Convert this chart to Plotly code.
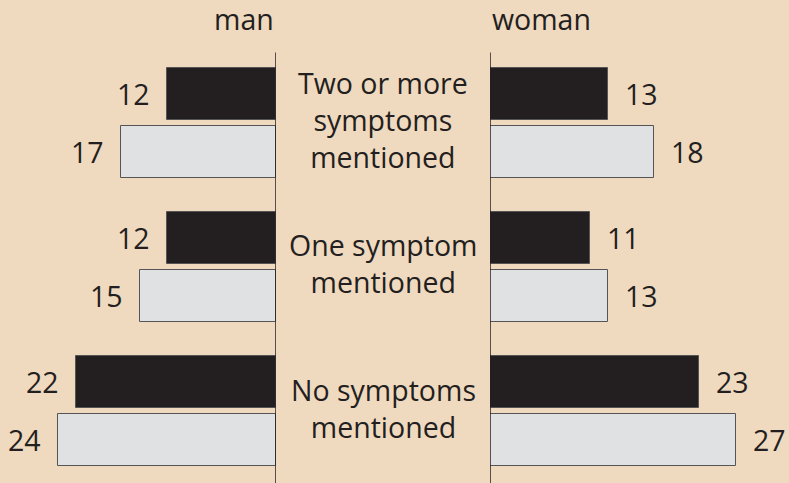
import plotly.graph_objects as go

# data
groups = ["Two or more<br>symptoms<br>mentioned", "One symptom<br>mentioned", "No symptoms<br>mentioned"]
man_dark = [12, 12, 22]
man_light = [17, 15, 24]
woman_dark = [13, 11, 23]
woman_light = [18, 13, 27]
headers = ["man", "woman"]

BG = "#efd9bf"
INK = "#231f20"
LIGHT = "#e0e1e3"
EDGE = "#555555"
FONT = "Open Sans"

OFF = 0.2
BAR_W = 0.36
pos = list(range(len(groups)))
dark_pos = [p - OFF for p in pos]
light_pos = [p + OFF for p in pos]

fig = go.Figure()


def add_bars(vals, ys, color, xaxis):
    fig.add_trace(go.Bar(
        x=vals, y=ys, orientation="h", width=BAR_W,
        marker=dict(color=color, line=dict(color=EDGE, width=1)),
        xaxis=xaxis, yaxis="y", showlegend=False, hoverinfo="x",
    ))


add_bars(man_dark, dark_pos, INK, "x")
add_bars(man_light, light_pos, LIGHT, "x")
add_bars(woman_dark, dark_pos, INK, "x2")
add_bars(woman_light, light_pos, LIGHT, "x2")

annotations = []
txt = dict(family=FONT, size=28.5, color=INK)

# value labels
for vals, ys in [(man_dark, dark_pos), (man_light, light_pos)]:
    for v, y in zip(vals, ys):
        annotations.append(dict(x=v, y=y, xref="x", yref="y", text=str(v),
                                xanchor="right", yanchor="middle", xshift=-15,
                                showarrow=False, font=txt))
for vals, ys in [(woman_dark, dark_pos), (woman_light, light_pos)]:
    for v, y in zip(vals, ys):
        annotations.append(dict(x=v, y=y, xref="x2", yref="y", text=str(v),
                                xanchor="left", yanchor="middle", xshift=15,
                                showarrow=False, font=txt))

# group labels in the middle
for g, p in zip(groups, pos):
    annotations.append(dict(x=383 / 789, y=p, xref="paper", yref="y", text=g,
                            xanchor="center", yanchor="middle", yshift=3,
                            showarrow=False, font=txt))

# headers
annotations.append(dict(x=0, y=0.96, xref="x", yref="paper", text=headers[0],
                        xanchor="right", yanchor="middle", showarrow=False, font=txt))
annotations.append(dict(x=0, y=0.96, xref="x2", yref="paper", text=headers[1],
                        xanchor="left", yanchor="middle", showarrow=False, font=txt))

# vertical baselines
shapes = [
    dict(type="line", xref="x", yref="y", x0=0, x1=0, y0=-0.49, y1=2.6,
         line=dict(color=INK, width=1.5)),
    dict(type="line", xref="x2", yref="y", x0=0, x1=0, y0=-0.49, y1=2.6,
         line=dict(color=INK, width=1.5)),
]

fig.update_layout(
    width=789, height=483,
    margin=dict(l=0, r=0, t=0, b=0),
    paper_bgcolor=BG, plot_bgcolor=BG,
    bargap=0, showlegend=False,
    xaxis=dict(domain=[0, 276 / 789], range=[276 / 9.1, 0], visible=False, fixedrange=True),
    xaxis2=dict(domain=[490 / 789, 1], range=[0, 299 / 9.1], visible=False, fixedrange=True),
    yaxis=dict(range=[2.5, -0.854], visible=False, fixedrange=True),
    annotations=annotations,
    shapes=shapes,
    font=dict(family=FONT, color=INK),
)

fig.write_html("out.html", config={"displayModeBar": False},
               post_script="document.body.style.margin='0';document.body.style.overflow='hidden';")
